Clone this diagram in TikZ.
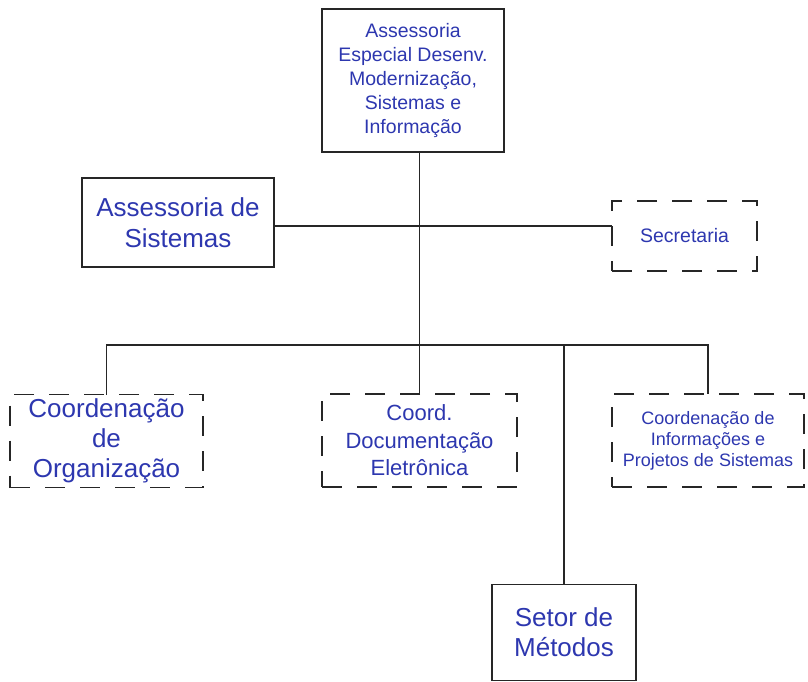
\documentclass[tikz,border=0pt]{standalone}
\usepackage{fontspec}
\setmainfont{Liberation Sans}
\definecolor{txtblue}{RGB}{45,55,175}
\begin{document}
\begin{tikzpicture}[x=1pt,y=-1pt,
  solidbox/.style={draw=black!85,line width=1.2pt,rectangle,inner sep=0pt,outer sep=0pt,align=center,text=txtblue},
  dashbox/.style={draw=black!85,line width=1.2pt,dash pattern=on 20pt off 15pt,rectangle,inner sep=0pt,outer sep=0pt,align=center,text=txtblue},
  conn/.style={draw=black!85,line width=1.1pt}]
\useasboundingbox (0,0) rectangle (808,681);
\node[solidbox,minimum width=182pt,minimum height=143pt,font=\fontsize{19.5}{24}\selectfont] (top) at (413,80.5)
  {Assessoria\\Especial Desenv.\\Modernização,\\Sistemas e\\Informação};
\node[solidbox,minimum width=192pt,minimum height=89pt,font=\fontsize{26}{31}\selectfont] (asis) at (178,222.5)
  {Assessoria de\\Sistemas};
\node[dashbox,minimum width=145pt,minimum height=70pt,font=\fontsize{19.5}{24}\selectfont] (sec) at (684.5,236)
  {Secretaria};
\node[dashbox,minimum width=193pt,minimum height=93pt,font=\fontsize{26}{30}\selectfont] (org) at (106.5,441)
  {Coordenação\\de\\Organização};
\node[dashbox,minimum width=195pt,minimum height=93pt,font=\fontsize{22}{27.5}\selectfont] (doc) at (419.5,440.5)
  {Coord.\\Documentação\\Eletrônica};
\node[dashbox,minimum width=192pt,minimum height=93pt,font=\fontsize{18}{21}\selectfont] (info) at (708,440.5)
  {Coordenação de\\Informações e\\Projetos de Sistemas};
\node[solidbox,minimum width=144pt,minimum height=96pt,font=\fontsize{26}{30}\selectfont] (set) at (564,632.5)
  {Setor de\\Métodos};
\coordinate (bus) at (0,345);
\coordinate (side) at (0,226);
\draw[conn] (doc.north |- top.south) -- (doc.north);
\draw[conn] (asis.east |- side) -- (sec.west |- side);
\draw[conn] (org.north) -- (org.north |- bus) -- (info.north |- bus) -- (info.north);
\draw[conn] (set.north) -- (set.north |- bus);
\end{tikzpicture}
\end{document}
